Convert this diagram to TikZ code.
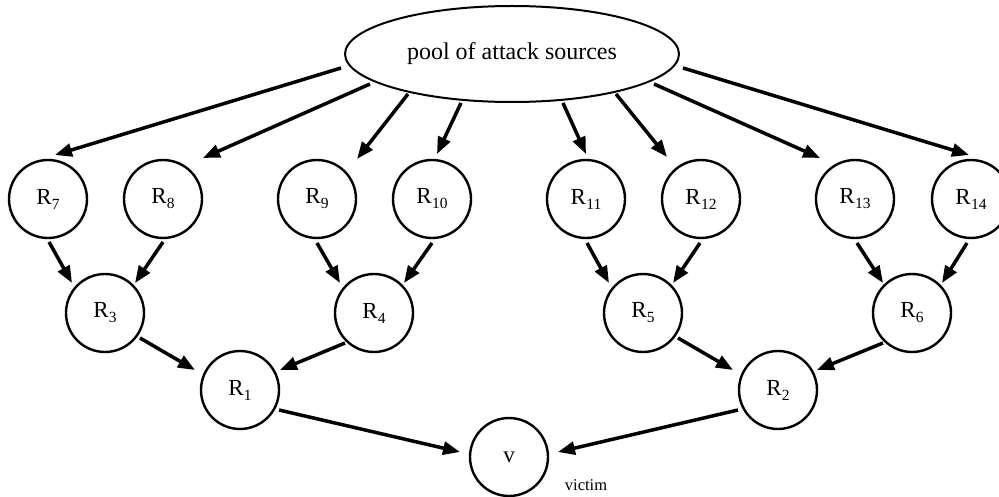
\documentclass[tikz,border=0pt]{standalone}
\usepackage{fontspec}
\setmainfont{Liberation Serif}
\usetikzlibrary{shapes.geometric,arrows.meta}
\newcommand\Rlab[1]{R\kern0.3pt\raisebox{-5pt}{\fontsize{15.5}{16}\selectfont #1}}
\tikzset{
  rnode/.style={circle, draw, line width=2.4pt, minimum size=78pt, inner sep=0pt,
    font=\fontsize{23}{26}\selectfont},
  conn/.style={line width=3.5pt, -{Triangle[length=17pt,width=13pt]}},
}
\begin{document}
\begin{tikzpicture}[x=1pt,y=-1pt]
\useasboundingbox (0,0) rectangle (999,497);
\node[ellipse, draw, line width=2pt, minimum width=334pt, minimum height=96pt, inner sep=0pt,
  font=\fontsize{24}{26}\selectfont] (pool) at (512,54) {\raisebox{-2pt}{pool of attack sources}};
\node[rnode] (R7) at (48,199) {\Rlab{7}};
\node[rnode] (R8) at (163,199) {\Rlab{8}};
\node[rnode] (R9) at (317,199) {\Rlab{9}};
\node[rnode] (R10) at (432,199) {\Rlab{10}};
\node[rnode] (R11) at (586,199) {\Rlab{11}};
\node[rnode] (R12) at (701,199) {\Rlab{12}};
\node[rnode] (R13) at (855,199) {\Rlab{13}};
\node[rnode] (R14) at (971,199) {\Rlab{14}};
\node[rnode] (R3) at (105,313) {\Rlab{3}};
\node[rnode] (R4) at (374,313) {\Rlab{4}};
\node[rnode] (R5) at (643,313) {\Rlab{5}};
\node[rnode] (R6) at (912,313) {\Rlab{6}};
\node[rnode] (R1) at (240,390) {\Rlab{1}};
\node[rnode] (R2) at (778,390) {\Rlab{2}};
\node[rnode] (v) at (509,457) {v};
\node[font=\fontsize{16.5}{18}\selectfont, inner sep=0pt] (victim) at (586,485) {victim};
% pool -> top row
\draw[conn] ([shift={(-171,14)}]pool.center) -- ([shift={(7,-44)}]R7.center);
\draw[conn] ([shift={(-142,30)}]pool.center) -- ([shift={(40,-41)}]R8.center);
\draw[conn] ([shift={(-104,40)}]pool.center) -- ([shift={(40,-40)}]R9.center);
\draw[conn] ([shift={(-51,49)}]pool.center) -- ([shift={(5,-45)}]R10.center);
\draw[conn] ([shift={(51,49)}]pool.center) -- ([shift={(0,-45)}]R11.center);
\draw[conn] ([shift={(104,40)}]pool.center) -- ([shift={(-34,-42)}]R12.center);
\draw[conn] ([shift={(142,30)}]pool.center) -- ([shift={(-35,-41)}]R13.center);
\draw[conn] ([shift={(171,14)}]pool.center) -- ([shift={(-2,-44)}]R14.center);
% top row -> middle row
\draw[conn] ([shift={(1,43)}]R7.center) -- ([shift={(-33,-30)}]R3.center);
\draw[conn] ([shift={(0,43)}]R8.center) -- ([shift={(30,-30)}]R3.center);
\draw[conn] ([shift={(0,44)}]R9.center) -- ([shift={(-34,-30)}]R4.center);
\draw[conn] ([shift={(0,44)}]R10.center) -- ([shift={(30,-30)}]R4.center);
\draw[conn] ([shift={(1,44)}]R11.center) -- ([shift={(-34,-30)}]R5.center);
\draw[conn] ([shift={(-1,44)}]R12.center) -- ([shift={(30,-30)}]R5.center);
\draw[conn] ([shift={(2,44)}]R13.center) -- ([shift={(-29,-30)}]R6.center);
\draw[conn] ([shift={(-4,44)}]R14.center) -- ([shift={(30,-30)}]R6.center);
% middle row -> R1, R2
\draw[conn] ([shift={(35,25)}]R3.center) -- ([shift={(-45,-20)}]R1.center);
\draw[conn] ([shift={(-29,30)}]R4.center) -- ([shift={(40,-20)}]R1.center);
\draw[conn] ([shift={(35,25)}]R5.center) -- ([shift={(-45,-20)}]R2.center);
\draw[conn] ([shift={(-29,30)}]R6.center) -- ([shift={(39,-20)}]R2.center);
% R1, R2 -> v
\draw[conn] ([shift={(39,20)}]R1.center) -- ([shift={(-49,-5)}]v.center);
\draw[conn] ([shift={(-40,20)}]R2.center) -- ([shift={(49,-5)}]v.center);
\end{tikzpicture}
\end{document}
